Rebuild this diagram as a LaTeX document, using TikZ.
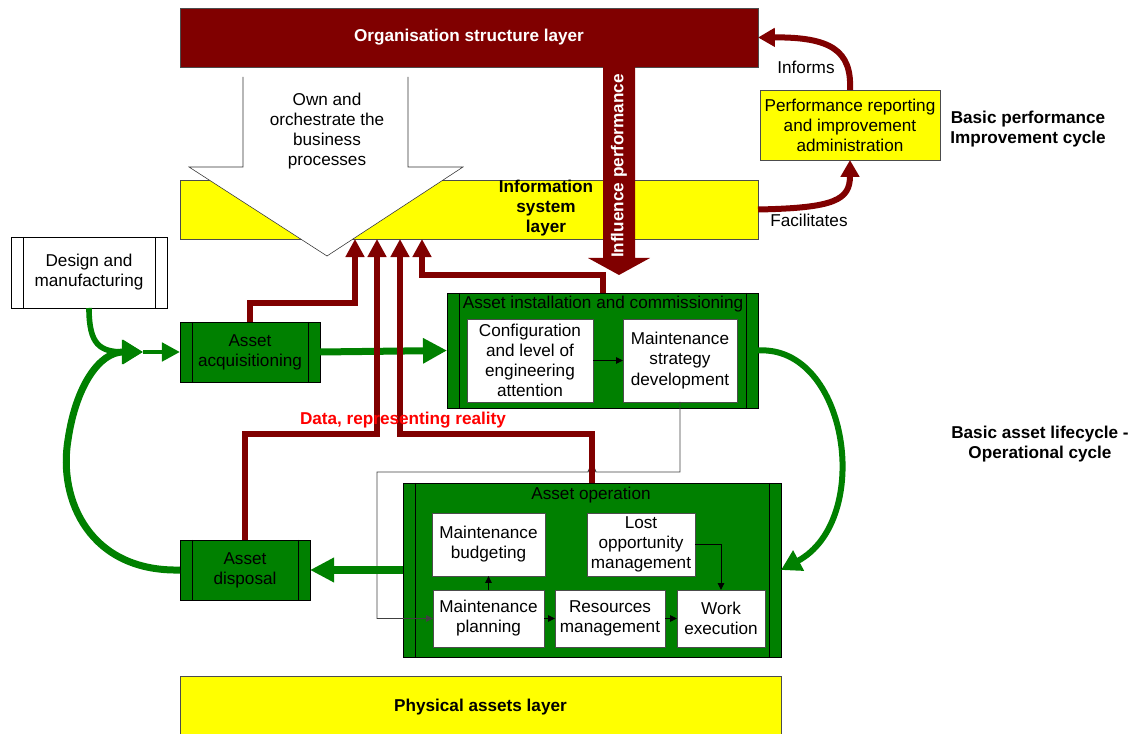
\documentclass[tikz,border=0pt]{standalone}
\usepackage{fontspec}
\setmainfont{Liberation Sans}
\usetikzlibrary{arrows,arrows.meta}
\definecolor{darkred}{RGB}{128,0,0}
\definecolor{leafgreen}{RGB}{0,128,0}
\definecolor{layeryellow}{RGB}{255,255,0}

\begin{document}
\begin{tikzpicture}[x=0.025cm,y=-0.025cm]
\fontsize{12.2}{14.3}\selectfont
\tikzset{dims/.style 2 args = {minimum width=#1*0.025cm,minimum height=#2*0.025cm,inner sep=0pt,outer sep=0pt}}
\tikzset{layer/.style = {draw=black!70,fill=layeryellow,font=\bfseries}}
\tikzset{proc/.style = {draw=black,align=center,path picture={
  \draw ([xshift=0.3cm]path picture bounding box.north west) -- ([xshift=0.3cm]path picture bounding box.south west);
  \draw ([xshift=-0.3cm]path picture bounding box.north east) -- ([xshift=-0.3cm]path picture bounding box.south east);}}}
\tikzset{phase/.style = {proc,fill=leafgreen}}
\tikzset{task/.style = {draw=black!70,fill=white,align=center}}
\tikzset{data/.style = {draw=darkred,line width=0.15cm,-{Triangle[length=0.45cm,width=0.45cm]}}}
\tikzset{flow/.style = {draw=leafgreen,line width=0.175cm}}
\tikzset{link/.style = {draw=black,line width=0.7pt,-{Triangle[length=0.17cm,width=0.16cm]}}}
\useasboundingbox (0,0) rectangle (1133,734);
% layers
\node[layer,dims={578}{59},fill=darkred,text=white] (org) at (469,37.5) {Organisation structure layer};
\node[layer,dims={578}{59}] (info) at (469,209.5) {};
\node[layer,dims={601}{62}] (phys) at (480.5,707) {Physical assets layer};
\node[font=\bfseries,align=center] (infotext) at (546,208) {Information\\system\\layer};
\draw[draw=black!80,fill=white] (243,77) -- (243,167) -- (189,167) -- (327,256) -- (463,167) -- (408,167) -- (408,77);
\node[align=center] (own) at (327,131) {Own and\\orchestrate the\\business\\processes};
\fill[darkred] (603,66) -- (603,258) -- (588,258) -- (619,275) -- (650,258) -- (635,258) -- (635,66) -- cycle;
\node[rotate=90,text=white,font=\bfseries] (influence) at (619,166) {Influence performance};
% boxes
\node[task,fill=layeryellow,dims={180}{70}] (perf) at (850,125) {Performance reporting\\and improvement\\administration};
\node[proc,fill=white,dims={156}{71}] (design) at (89,272.5) {Design and\\manufacturing};
\node[phase,dims={140}{60}] (acq) at (250,352) {Asset\\acquisitioning};
\node[phase,dims={130}{60}] (disp) at (245,570) {Asset\\disposal};
\node[phase,dims={311}{115}] (inst) at (602.5,350.5) {};
\node[phase,dims={378}{174}] (op) at (592,570) {};
\node (insttitle) at (603,304) {Asset installation and commissioning};
\node (optitle) at (591,495) {Asset operation};
\node[task,dims={126}{83}] (config) at (530,360.5) {Configuration\\and level of\\engineering\\attention};
\node[task,dims={114}{83}] (strat) at (680,360.5) {Maintenance\\strategy\\development};
\node[task,dims={113}{63}] (budget) at (488.5,544.5) {Maintenance\\budgeting};
\node[task,dims={108}{63}] (lost) at (641,544.5) {Lost\\opportunity\\management};
\node[task,dims={111}{57}] (plan) at (488.5,618.5) {Maintenance\\planning};
\node[task,dims={110}{57}] (res) at (610,618.5) {Resources\\management};
\node[task,dims={88}{57}] (work) at (721,618.5) {Work\\execution};
% edges
\draw[link] (config) -- (strat);
\draw[link] (plan) -- (budget);
\draw[link] (plan) -- (res);
\draw[link] (res) -- (work);
\draw[link] (lost.east) -| (work.north);
\draw[link,draw=black!75] (strat.south) -- (680,472) -- (596,472) arc[start angle=0,end angle=180,radius=0.1cm] -- (377,472) |- (plan.west);
\coordinate (join) at (143,352);
\draw[flow,line width=0.14cm,-{Triangle[length=0.5cm,width=0.58cm]}] (design.south) .. controls (89,345) and (100,352) .. (join);
\draw[flow,-{Triangle[length=0.53cm,width=0.58cm]}] (disp.west) .. controls (90,572) and (58,500) .. (68,440) .. controls (76,385) and (100,352) .. (join);
\draw[flow,line width=0.12cm,-{Triangle[length=0.45cm,width=0.45cm]}] (join) -- (acq.west);
\draw[flow,-{Triangle[length=0.6cm,width=0.6cm]}] (acq.east) -- (inst.west);
\draw[flow,line width=0.15cm,-{Triangle[length=0.5cm,width=0.55cm]}] (inst.east) .. controls (848,345) and (874,520) .. (op.east);
\draw[flow,-{Triangle[length=0.6cm,width=0.58cm]}] (op.west) -- (disp.east);
\coordinate (d1) at (355,239);
\coordinate (d2) at (377,239);
\coordinate (d3) at (400,239);
\coordinate (d4) at (422,239);
\draw[data] (acq.north) -- ++(0,-19) -| (d1);
\draw[data] (disp.north) -- ++(0,-106) -| (d2);
\draw[data] (op.north) -- ++(0,-49) -| (d3);
\draw[data] (inst.north) -- ++(0,-18) -| (d4);
\draw[data,-{Triangle[length=0.42cm,width=0.45cm]}] (perf.north) .. controls (852,50) and (830,37) .. (org.east);
\draw[data,-{Triangle[length=0.42cm,width=0.45cm]}] (info.east) .. controls (835,208) and (850,200) .. (perf.south);
% labels
\node (informs) at (806,67) {Informs};
\node (facil) at (809,220) {Facilitates};
\node[text=red,font=\bfseries] (datalabel) at (403,420) {Data, representing reality};
\node[font=\bfseries,align=center] (perfcycle) at (1028,129) {Basic performance\\Improvement cycle};
\node[font=\bfseries,align=center] (lifecycle) at (1040,444) {Basic asset lifecycle -\\Operational cycle};
\end{tikzpicture}
\end{document}
